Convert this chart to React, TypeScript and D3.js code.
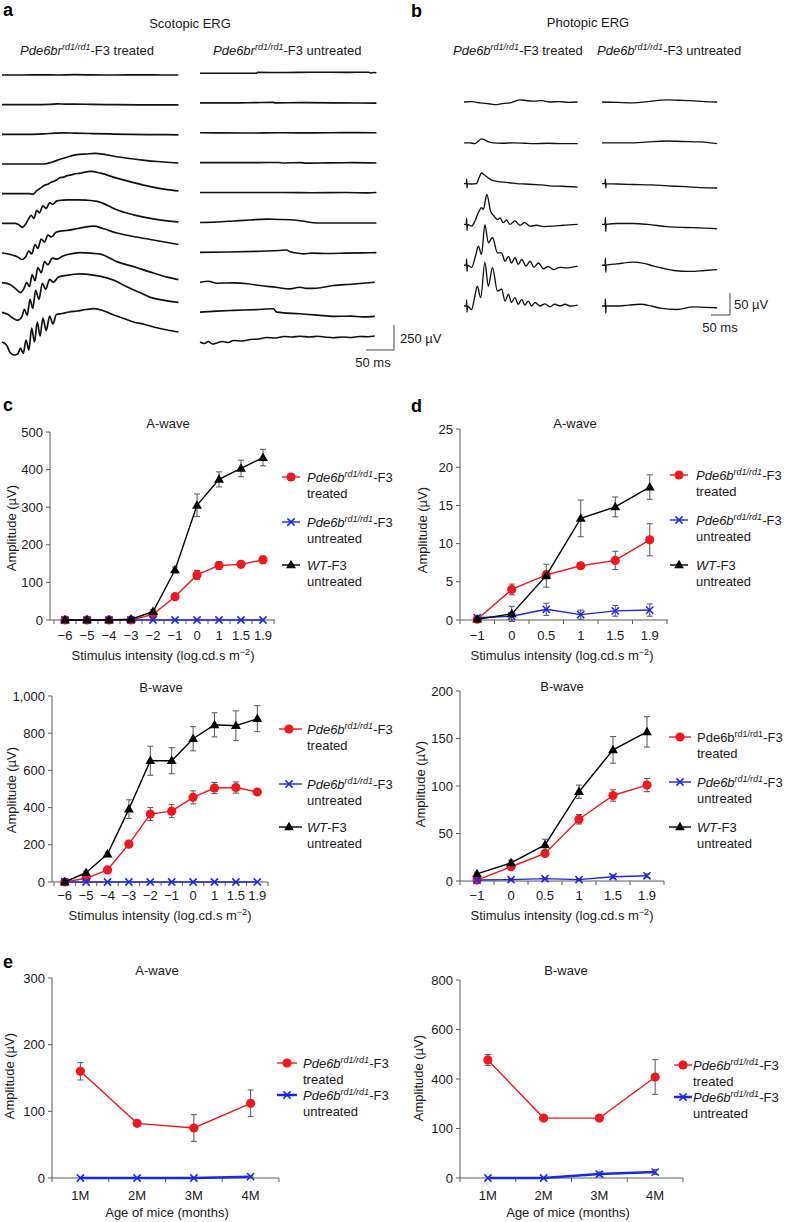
import React from "react";
import * as d3 from "d3";

const FONT = "'Liberation Sans', Arial, Helvetica, sans-serif";
const RED = "#f2161e";
const BLUE = "#1c26e4";
const AXIS = "#5c5c5c";
const ERR = "#555";
const TXT = "#1a1a1a";

type Pt = [number, number];

// ---------- Panel a: scotopic ERG traces [ms, µV] ----------
const SCOT_TREATED: Pt[][] = [
  [[0,0],[40,0],[70,2],[100,0],[130,3],[160,1],[200,0],[250,2],[290,0],[315,0]],
  [[0,0],[60,0],[85,3],[100,8],[112,5],[130,6],[160,3],[200,0],[260,-2],[315,-3]],
  [[0,0],[50,0],[75,5],[95,12],[110,15],[130,12],[160,8],[200,3],[260,-2],[315,-5]],
  [[0,0],[75,0],[90,20],[105,50],[120,75],[134,93],[150,100],[167,107],[180,98],[193,85],[215,65],[235,50],[255,37],[277,25],[300,15],[315,10]],
  [[0,0],[48,0],[55,-5],[62,30],[70,60],[76,85],[82,95],[88,115],[93,125],[98,140],[104,160],[110,165],[116,180],[122,185],[128,195],[140,205],[158,222],[176,205],[205,155],[235,110],[265,70],[295,40],[315,27]],
  [[0,0],[24,0],[30,-15],[36,-40],[42,-10],[47,40],[52,80],[57,50],[62,130],[67,105],[73,175],[79,150],[85,205],[91,190],[98,225],[108,232],[118,235],[135,235],[150,232],[170,220],[190,175],[205,135],[235,85],[265,50],[295,25],[315,15]],
  [[0,0],[15,-15],[28,-40],[36,-65],[42,-40],[48,20],[53,-10],[59,85],[64,45],[70,140],[76,110],[82,180],[88,160],[96,205],[106,220],[116,225],[135,245],[150,262],[164,268],[180,245],[205,200],[235,165],[265,135],[295,105],[315,85]],
  [[0,0],[15,-20],[26,-70],[33,-100],[39,-60],[44,0],[49,-40],[54,80],[59,20],[64,150],[70,100],[76,210],[82,180],[90,245],[98,235],[110,270],[125,290],[140,300],[158,295],[176,285],[205,210],[235,160],[265,105],[295,55],[315,30]],
  [[0,0],[10,-20],[20,-60],[28,-80],[35,-50],[40,30],[45,-30],[50,130],[55,40],[60,220],[66,130],[72,290],[78,230],[85,330],[92,300],[100,350],[115,370],[140,385],[160,375],[176,360],[200,320],[225,250],[245,200],[265,150],[290,120],[315,100]],
  [[0,0],[8,-30],[15,-110],[22,-130],[28,-120],[33,-60],[38,-115],[43,20],[48,-80],[53,140],[58,0],[63,200],[68,60],[73,240],[79,115],[85,260],[91,180],[97,275],[107,285],[120,300],[134,310],[150,325],[164,333],[180,315],[193,285],[215,240],[235,200],[255,175],[271,150],[295,120],[315,100]],
];

const SCOT_UNTREATED: Pt[][] = [
  [[0,-3],[60,-3],[100,-3],[103,6],[150,5],[200,8],[260,6],[300,8],[305,0],[310,5],[315,3]],
  [[0,0],[60,0],[100,3],[130,5],[135,0],[180,3],[250,0],[315,-2]],
  [[0,0],[80,-2],[150,0],[200,-1],[260,2],[315,0]],
  [[0,0],[100,0],[140,2],[150,-3],[180,0],[190,-5],[230,-2],[270,0],[315,-3]],
  [[0,0],[150,0],[200,-2],[260,0],[300,-3],[315,0]],
  [[0,0],[30,5],[60,15],[90,25],[119,33],[140,30],[161,27],[185,12],[208,-5],[260,-5],[315,-5]],
  [[0,0],[50,3],[100,10],[140,18],[155,23],[160,8],[170,-5],[185,-15],[200,-8],[230,-12],[260,-8],[290,-5],[315,-3]],
  [[0,0],[15,10],[30,-10],[60,-7],[85,-15],[107,-33],[135,-50],[161,-67],[178,-50],[190,-62],[208,-60],[238,-33],[270,-20],[312,0]],
  [[0,0],[30,10],[60,17],[100,25],[131,33],[137,0],[178,-17],[210,-30],[238,-43],[270,-40],[290,-48],[312,-43]],
  [[0,0],[8,-15],[15,5],[22,-20],[30,-10],[40,5],[50,-5],[60,15],[75,10],[90,25],[105,30],[119,45],[135,40],[150,55],[165,50],[178,57],[195,50],[210,58],[225,48],[238,43],[255,50],[270,45],[285,55],[300,52],[312,60]],
];

// ---------- Panel b: photopic ERG traces [ms, µV] ----------
const PHOT_TREATED: Pt[][] = [
  [[0,0],[20,1],[42,-2],[65,-4],[86,-6],[105,-3],[121,-2],[135,2],[147,5],[165,3],[182,2],[205,3],[226,0],[250,1],[275,-1],[299,0]],
  [[0,0],[15,0],[29,-2],[38,4],[46,9],[53,7],[60,4],[70,1],[77,0],[100,-1],[130,0],[160,-1],[182,-2],[220,-1],[260,-2],[299,-2]],
  [[0,0],[6,0],[7,10],[8,-10],[9,0],[20,-1],[33,0],[40,14],[46,24],[53,20],[61,15],[73,8],[95,4],[120,2],[139,0],[160,-1],[182,-2],[205,-3],[226,-5],[260,-6],[299,-8]],
  [[0,0],[6,0],[7,14],[8,-14],[9,0],[20,-4],[30,10],[38,27],[46,38],[51,34],[60,68],[70,30],[79,19],[88,11],[95,15],[103,4],[112,10],[121,0],[134,8],[147,-2],[160,4],[174,-4],[191,-2],[209,-5],[235,-4],[261,-2],[299,0]],
  [[0,0],[6,0],[7,14],[8,-14],[9,0],[20,-5],[30,20],[38,43],[46,24],[55,92],[64,51],[75,63],[88,28],[99,28],[108,9],[117,20],[125,5],[134,17],[143,2],[152,13],[163,-2],[174,9],[184,-5],[196,5],[209,-8],[222,-3],[235,-10],[253,-5],[270,-6],[299,-2]],
  [[0,0],[6,0],[7,14],[8,-14],[9,0],[20,-8],[28,20],[35,45],[44,19],[55,99],[64,45],[75,87],[88,34],[99,38],[108,11],[117,27],[125,8],[134,19],[143,4],[152,15],[160,2],[169,11],[178,0],[187,8],[200,0],[213,5],[226,-2],[239,4],[253,0],[266,4],[279,0],[299,2]],
];

const PHOT_UNTREATED: Pt[][] = [
  [[0,0],[40,-1],[83,-2],[120,1],[171,5],[200,4],[232,3],[270,1],[303,0]],
  [[0,0],[40,0],[83,0],[120,2],[171,4],[210,3],[259,2],[285,0],[303,-2]],
  [[0,0],[8,0],[9,10],[10,-10],[11,0],[40,-1],[83,-2],[130,-3],[171,-5],[220,-7],[259,-9],[303,-10]],
  [[0,0],[8,0],[9,16],[10,-16],[11,0],[40,2],[83,2],[120,0],[171,-5],[220,-7],[259,-8],[303,-10]],
  [[0,0],[8,0],[9,16],[10,-16],[11,0],[39,3],[83,7],[110,4],[136,-2],[160,-7],[189,-12],[232,-14],[270,-12],[303,-10]],
  [[0,0],[8,0],[9,16],[10,-16],[11,0],[39,0],[70,2],[101,4],[130,0],[153,-5],[197,-8],[241,-2],[270,-3],[303,-4]],
];

// ---------- Panel c ----------
const CATS_C = ["\u22126", "\u22125", "\u22124", "\u22123", "\u22122", "\u22121", "0", "1", "1.5", "1.9"];
const C_A_TREATED = [0, 0, 0, 0, 15, 62, 120, 145, 148, 160];
const C_A_TREATED_ERR = [0, 0, 0, 0, 3, 5, 12, 10, 8, 10];
const C_A_UNTREATED = [0, 0, 0, 0, 0, 0, 0, 0, 0, 0];
const C_A_UNTREATED_ERR = [0, 0, 0, 0, 0, 0, 0, 0, 0, 0];
const C_A_WT = [0, 0, 0, 2, 22, 133, 305, 374, 403, 432];
const C_A_WT_ERR = [0, 0, 0, 0, 6, 8, 30, 20, 22, 22];
const C_A_TICKS = [0, 100, 200, 300, 400, 500];
const C_A_TICK_LABELS = ["0", "100", "200", "300", "400", "500"];

const C_B_TREATED = [0, 20, 65, 204, 365, 381, 455, 505, 508, 484];
const C_B_TREATED_ERR = [0, 5, 8, 20, 35, 35, 35, 30, 30, 0];
const C_B_UNTREATED = [0, 0, 0, 0, 0, 0, 0, 0, 0, 0];
const C_B_UNTREATED_ERR = [0, 0, 0, 0, 0, 0, 0, 0, 0, 0];
const C_B_WT = [0, 50, 150, 392, 652, 652, 770, 845, 840, 878];
const C_B_WT_ERR = [0, 8, 10, 50, 78, 70, 65, 65, 80, 70];
const C_B_TICKS = [0, 200, 400, 600, 800, 1000];
const C_B_TICK_LABELS = ["0", "200", "400", "600", "800", "1,000"];

// ---------- Panel d ----------
const CATS_D = ["\u22121", "0", "0.5", "1", "1.5", "1.9"];
const D_A_TREATED = [0.1, 4.0, 5.9, 7.1, 7.8, 10.5];
const D_A_TREATED_ERR = [0, 0.7, 0.5, 0.3, 1.2, 2.1];
const D_A_UNTREATED = [0.3, 0.5, 1.4, 0.7, 1.2, 1.3];
const D_A_UNTREATED_ERR = [0, 0.5, 0.8, 0.6, 0.7, 0.8];
const D_A_WT = [0.1, 0.8, 5.8, 13.3, 14.8, 17.4];
const D_A_WT_ERR = [0, 1.0, 1.5, 2.4, 1.3, 1.6];
const D_A_TICKS = [0, 5, 10, 15, 20, 25];
const D_A_TICK_LABELS = ["0", "5", "10", "15", "20", "25"];

const D_B_TREATED = [1, 15, 29, 65, 90, 101];
const D_B_TREATED_ERR = [0, 2, 3, 5, 6, 7];
const D_B_UNTREATED = [1, 1.5, 2.5, 1.5, 4.5, 5.5];
const D_B_UNTREATED_ERR = [0, 1, 1, 1, 2, 2];
const D_B_WT = [7.5, 19, 38, 94, 138, 157];
const D_B_WT_ERR = [1, 3, 6, 7, 14, 16];
const D_B_TICKS = [0, 50, 100, 150, 200];
const D_B_TICK_LABELS = ["0", "50", "100", "150", "200"];

// ---------- Panel e ----------
const CATS_E = ["1M", "2M", "3M", "4M"];
const E_A_TREATED = [160, 82, 75, 112];
const E_A_TREATED_ERR = [13, 3, 20, 20];
const E_A_UNTREATED = [0, 0, 0, 2];
const E_A_UNTREATED_ERR = [0, 0, 0, 1];
const E_A_TICKS = [0, 100, 200, 300];
const E_A_TICK_LABELS = ["0", "100", "200", "300"];

const E_B_TREATED = [477, 242, 242, 408];
const E_B_TREATED_ERR = [22, 0, 0, 70];
const E_B_UNTREATED = [0, 0, 16, 24];
const E_B_UNTREATED_ERR = [0, 0, 8, 10];
const E_B_TICKS = [0, 200, 400, 600, 800];
const E_B_TICK_LABELS = ["0", "100", "400", "600", "800"];

// ---------- components ----------
type Kind = "t" | "u" | "w";

function Marker({ kind, x, y }: { kind: Kind; x: number; y: number }) {
  if (kind === "t") return <circle cx={x} cy={y} r={4.6} fill={RED} />;
  if (kind === "w") {
    const d = d3.symbol(d3.symbolTriangle, 42)() as string;
    return <path d={d} transform={`translate(${x},${y + 0.5})`} fill="#000" />;
  }
  const s = 3.6;
  return (
    <g stroke={BLUE} strokeWidth={1.5}>
      <line x1={x - s} y1={y - s} x2={x + s} y2={y + s} />
      <line x1={x - s} y1={y + s} x2={x + s} y2={y - s} />
    </g>
  );
}

const colorOf = (k: Kind) => (k === "t" ? RED : k === "u" ? BLUE : "#000");

function LegendText({ x, y, italic, gene, second }: any) {
  const fs = italic ? "italic" : "normal";
  return (
    <g>
      <text x={x} y={y} fontSize={13} fill={TXT}>
        <tspan fontStyle={fs}>{gene}</tspan>
        {gene === "WT" ? null : (
          <tspan fontStyle={fs} fontSize={9} dy={-5}>rd1/rd1</tspan>
        )}
        <tspan dy={gene === "WT" ? 0 : 5}>-F3</tspan>
      </text>
      <text x={x} y={y + 16} fontSize={13} fill={TXT}>{second}</text>
    </g>
  );
}

function Chart(p: any) {
  const x = d3.scaleBand<string>().domain(p.cats).range([p.bandL, p.bandR]);
  const y = d3.scaleLinear().domain([0, p.yMax]).range([p.bottom, p.top]);
  const cx = (i: number) => (x(p.cats[i]) as number) + x.bandwidth() / 2;
  const line = d3.line<number>().x((_, i) => cx(i)).y((d) => y(d));
  const bounds = p.cats.map((c: string) => x(c) as number).concat([p.bandR]);
  return (
    <g fontFamily={FONT}>
      <line x1={p.left} x2={p.left} y1={p.bottom} y2={p.top} stroke={AXIS} strokeWidth={1} />
      {p.yTicks.map((t: number, i: number) => (
        <g key={"yt" + i}>
          <line x1={p.left - 4} x2={p.left} y1={y(t)} y2={y(t)} stroke={AXIS} />
          <text x={p.left - 7} y={y(t)} dy="0.36em" textAnchor="end" fontSize={13} fill={TXT}>
            {p.yLabels[i]}
          </text>
        </g>
      ))}
      <line x1={p.left} x2={p.right} y1={p.bottom} y2={p.bottom} stroke={AXIS} strokeWidth={1} />
      {bounds.map((b: number, i: number) => (
        <line key={"xb" + i} x1={b} x2={b} y1={p.bottom} y2={p.bottom + 4} stroke={AXIS} />
      ))}
      {p.cats.map((c: string, i: number) => (
        <text key={"xl" + i} x={cx(i)} y={p.bottom + p.tickDy} textAnchor="middle" fontSize={13} fill={TXT}>
          {c}
        </text>
      ))}
      <text x={p.titleX} y={p.titleY} textAnchor="middle" fontSize={13} fill={TXT}>{p.title}</text>
      <text transform={`translate(${p.yLabX},${p.yLabY}) rotate(-90)`} textAnchor="middle" fontSize={13} fill={TXT}>
        Amplitude (µV)
      </text>
      {p.xLabel === "age" ? (
        <text x={p.xLabX} y={p.xLabY} textAnchor="middle" fontSize={13} fill={TXT}>Age of mice (months)</text>
      ) : (
        <text x={p.xLabX} y={p.xLabY} textAnchor="middle" fontSize={13} fill={TXT}>
          Stimulus intensity (log.cd.s m<tspan fontSize={9} dy={-5}>{"\u22122"}</tspan>
          <tspan dy={5}>)</tspan>
        </text>
      )}
      {p.series.map((s: any, si: number) => (
        <g key={"s" + si}>
          <path d={line(s.values) as string} fill="none" stroke={colorOf(s.kind)} strokeWidth={s.width || 1.4} />
          {s.values.map((v: number, i: number) =>
            s.errs[i] > 0 ? (
              <g key={"e" + i} stroke={ERR} strokeWidth={1}>
                <line x1={cx(i)} x2={cx(i)} y1={y(v - s.errs[i])} y2={y(v + s.errs[i])} />
                <line x1={cx(i) - 3} x2={cx(i) + 3} y1={y(v + s.errs[i])} y2={y(v + s.errs[i])} />
                <line x1={cx(i) - 3} x2={cx(i) + 3} y1={y(v - s.errs[i])} y2={y(v - s.errs[i])} />
              </g>
            ) : null
          )}
          {s.values.map((v: number, i: number) => (
            <Marker key={"m" + i} kind={s.kind} x={cx(i)} y={y(v)} />
          ))}
        </g>
      ))}
      {p.legend.entries.map((e: any, i: number) => (
        <g key={"lg" + i}>
          <line x1={p.legend.x1} x2={p.legend.x2} y1={e.y} y2={e.y} stroke={colorOf(e.kind)} strokeWidth={e.width || 1.4} />
          <Marker kind={e.kind} x={p.legend.mx} y={e.y} />
          <LegendText
            x={p.legend.tx}
            y={e.y + 4.5}
            italic={e.italic !== false}
            gene={e.kind === "w" ? "WT" : "Pde6b"}
            second={e.kind === "t" ? "treated" : "untreated"}
          />
        </g>
      ))}
    </g>
  );
}

function Traces({ traces, x0, pxPerMs, y0, y1, pxPerUv, width }: any) {
  const rows = d3.range(traces.length);
  const rowY = d3.scalePoint<number>().domain(rows).range([y0, y1]);
  return (
    <g>
      {traces.map((tr: Pt[], r: number) => {
        const base = rowY(r) as number;
        const xs = d3.scaleLinear().domain([0, 100]).range([x0, x0 + 100 * pxPerMs]);
        const ys = d3.scaleLinear().domain([0, 100]).range([base, base - 100 * pxPerUv]);
        const line = d3.line<Pt>().x((d) => xs(d[0])).y((d) => ys(d[1])).curve(d3.curveMonotoneX);
        return <path key={r} d={line(tr) as string} fill="none" stroke="#111" strokeWidth={width} strokeLinejoin="round" />;
      })}
    </g>
  );
}

function ScaleBar({ cx, cy, uv, ms, pxPerUv, pxPerMs, uvX, uvY, msX, msY }: any) {
  const v = d3.scaleLinear().domain([0, uv]).range([cy, cy - uv * pxPerUv]);
  const h = d3.scaleLinear().domain([0, ms]).range([cx, cx - ms * pxPerMs]);
  return (
    <g fontFamily={FONT} fontSize={13} fill={TXT}>
      <line x1={cx} x2={cx} y1={v(0)} y2={v(uv)} stroke="#444" strokeWidth={1} />
      <line x1={h(0)} x2={h(ms)} y1={cy} y2={cy} stroke="#444" strokeWidth={1} />
      <text x={uvX} y={uvY}>{uv} µV</text>
      <text x={msX} y={msY} textAnchor="middle">{ms} ms</text>
    </g>
  );
}

function Header({ x, y, gene, rest }: any) {
  return (
    <text x={x} y={y} fontSize={13} fill={TXT} fontFamily={FONT}>
      <tspan fontStyle="italic">{gene}</tspan>
      <tspan fontStyle="italic" fontSize={9} dy={-5}>rd1/rd1</tspan>
      <tspan dy={5}>{rest}</tspan>
    </text>
  );
}

export default function App() {
  const legC = (y1: number, y2: number, y3: number) => [
    { kind: "t", y: y1 },
    { kind: "u", y: y2 },
    { kind: "w", y: y3 },
  ];
  return (
    <svg width={788} height={1222} style={{ position: "absolute", left: 0, top: 0, background: "#fff" }} fontFamily={FONT}>
      <rect width={788} height={1222} fill="#fff" />
      <g fontWeight="bold" fontSize={18} fill="#000" fontFamily={FONT}>
        <text x={3} y={16}>a</text>
        <text x={411} y={17}>b</text>
        <text x={3} y={411}>c</text>
        <text x={411} y={412}>d</text>
        <text x={3} y={968}>e</text>
      </g>

      {/* ---- a ---- */}
      <text x={190} y={28} textAnchor="middle" fontSize={13} fill={TXT} fontFamily={FONT}>Scotopic ERG</text>
      <Header x={20} y={55} gene="Pde6br" rest="-F3 treated" />
      <Header x={213} y={55} gene="Pde6br" rest="-F3 untreated" />
      <Traces traces={SCOT_TREATED} x0={2} pxPerMs={0.56} y0={75} y1={342} pxPerUv={0.1} width={1.7} />
      <Traces traces={SCOT_UNTREATED} x0={200} pxPerMs={0.56} y0={73} y1={342} pxPerUv={0.1} width={1.6} />
      <ScaleBar cx={394} cy={350} uv={250} ms={50} pxPerUv={0.1} pxPerMs={0.56} uvX={400} uvY={343} msX={373} msY={367} />

      {/* ---- b ---- */}
      <text x={588} y={27} textAnchor="middle" fontSize={13} fill={TXT} fontFamily={FONT}>Photopic ERG</text>
      <Header x={453} y={55} gene="Pde6b" rest="-F3 treated" />
      <Header x={597} y={55} gene="Pde6b" rest="-F3 untreated" />
      <Traces traces={PHOT_TREATED} x0={464} pxPerMs={0.38} y0={102} y1={306} pxPerUv={0.44} width={1.35} />
      <Traces traces={PHOT_UNTREATED} x0={602} pxPerMs={0.38} y0={102} y1={306} pxPerUv={0.44} width={1.35} />
      <ScaleBar cx={730} cy={315} uv={50} ms={50} pxPerUv={0.44} pxPerMs={0.38} uvX={734} uvY={309} msX={720} msY={332} />

      {/* ---- c top ---- */}
      <Chart
        cats={CATS_C} left={50} right={275} bandL={54} bandR={274} top={432} bottom={620} yMax={500}
        yTicks={C_A_TICKS} yLabels={C_A_TICK_LABELS} tickDy={20}
        title="A-wave" titleX={168} titleY={428} yLabX={16} yLabY={528} xLabX={163} xLabY={660}
        series={[
          { kind: "t", values: C_A_TREATED, errs: C_A_TREATED_ERR },
          { kind: "u", values: C_A_UNTREATED, errs: C_A_UNTREATED_ERR },
          { kind: "w", values: C_A_WT, errs: C_A_WT_ERR },
        ]}
        legend={{ x1: 282, x2: 300, mx: 291, tx: 307, entries: legC(477, 522, 565) }}
      />
      {/* ---- c bottom ---- */}
      <Chart
        cats={CATS_C} left={52} right={268} bandL={54} bandR={268} top={696} bottom={882} yMax={1000}
        yTicks={C_B_TICKS} yLabels={C_B_TICK_LABELS} tickDy={18}
        title="B-wave" titleX={161} titleY={692} yLabX={16} yLabY={790} xLabX={160} xLabY={920}
        series={[
          { kind: "t", values: C_B_TREATED, errs: C_B_TREATED_ERR },
          { kind: "u", values: C_B_UNTREATED, errs: C_B_UNTREATED_ERR },
          { kind: "w", values: C_B_WT, errs: C_B_WT_ERR },
        ]}
        legend={{ x1: 279, x2: 302, mx: 289, tx: 307, entries: legC(729, 784, 827) }}
      />
      {/* ---- d top ---- */}
      <Chart
        cats={CATS_D} left={460} right={668} bandL={460} bandR={667} top={429} bottom={620} yMax={25}
        yTicks={D_A_TICKS} yLabels={D_A_TICK_LABELS} tickDy={20}
        title="A-wave" titleX={575} titleY={428} yLabX={427} yLabY={530} xLabX={562} xLabY={660}
        series={[
          { kind: "t", values: D_A_TREATED, errs: D_A_TREATED_ERR },
          { kind: "u", values: D_A_UNTREATED, errs: D_A_UNTREATED_ERR },
          { kind: "w", values: D_A_WT, errs: D_A_WT_ERR },
        ]}
        legend={{ x1: 670, x2: 688, mx: 679, tx: 696, entries: legC(475, 520, 565) }}
      />
      {/* ---- d bottom ---- */}
      <Chart
        cats={CATS_D} left={460} right={664} bandL={460} bandR={664} top={691} bottom={881} yMax={200}
        yTicks={D_B_TICKS} yLabels={D_B_TICK_LABELS} tickDy={19}
        title="B-wave" titleX={562} titleY={691} yLabX={425} yLabY={784} xLabX={562} xLabY={920}
        series={[
          { kind: "t", values: D_B_TREATED, errs: D_B_TREATED_ERR },
          { kind: "u", values: D_B_UNTREATED, errs: D_B_UNTREATED_ERR },
          { kind: "w", values: D_B_WT, errs: D_B_WT_ERR },
        ]}
        legend={{ x1: 669, x2: 691, mx: 680, tx: 697, entries: [
          { kind: "t", y: 737, italic: false },
          { kind: "u", y: 782 },
          { kind: "w", y: 827 },
        ] }}
      />
      {/* ---- e left ---- */}
      <Chart
        cats={CATS_E} left={52} right={279} bandL={52} bandR={279} top={978} bottom={1178} yMax={300}
        yTicks={E_A_TICKS} yLabels={E_A_TICK_LABELS} tickDy={22}
        title="A-wave" titleX={157} titleY={975} yLabX={14} yLabY={1076} xLabX={167} xLabY={1217} xLabel="age"
        series={[
          { kind: "t", values: E_A_TREATED, errs: E_A_TREATED_ERR },
          { kind: "u", values: E_A_UNTREATED, errs: E_A_UNTREATED_ERR, width: 2.5 },
        ]}
        legend={{ x1: 277, x2: 297, mx: 287, tx: 303, entries: [
          { kind: "t", y: 1063 },
          { kind: "u", y: 1095, width: 2.5 },
        ] }}
      />
      {/* ---- e right ---- */}
      <Chart
        cats={CATS_E} left={460} right={683} bandL={460} bandR={683} top={980} bottom={1178} yMax={800}
        yTicks={E_B_TICKS} yLabels={E_B_TICK_LABELS} tickDy={22}
        title="B-wave" titleX={566} titleY={975} yLabX={423} yLabY={1078} xLabX={568} xLabY={1217} xLabel="age"
        series={[
          { kind: "t", values: E_B_TREATED, errs: E_B_TREATED_ERR },
          { kind: "u", values: E_B_UNTREATED, errs: E_B_UNTREATED_ERR, width: 2.5 },
        ]}
        legend={{ x1: 674, x2: 692, mx: 683, tx: 693, entries: [
          { kind: "t", y: 1065 },
          { kind: "u", y: 1097, width: 2.5 },
        ] }}
      />
    </svg>
  );
}
